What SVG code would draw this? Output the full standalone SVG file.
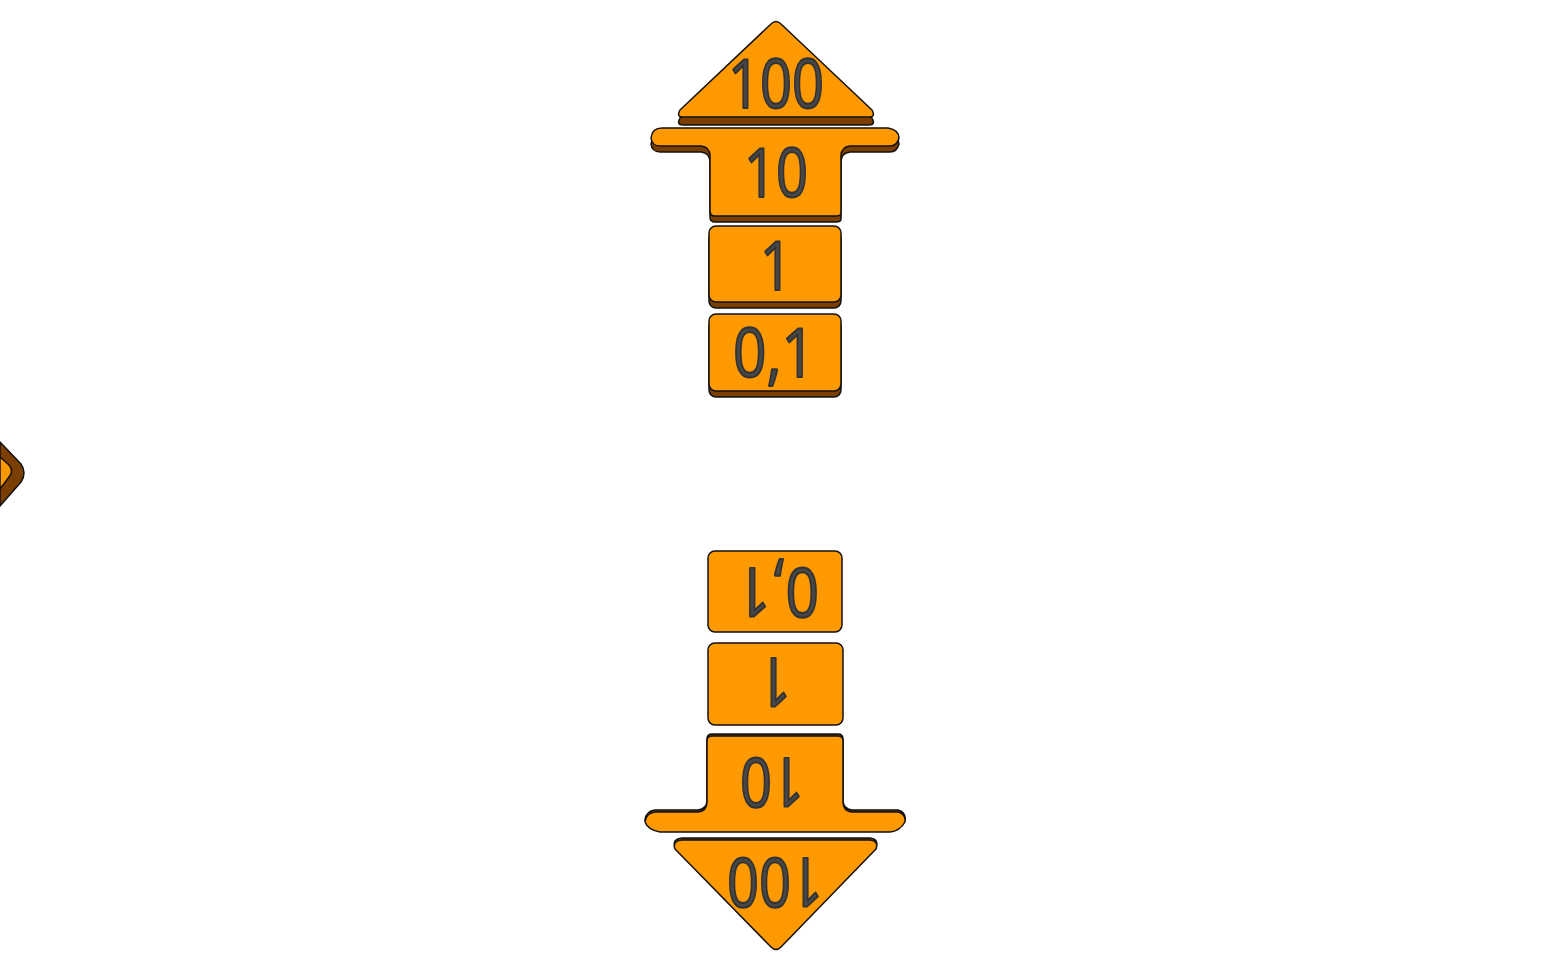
<svg xmlns="http://www.w3.org/2000/svg" width="1560" height="967" viewBox="0 0 1560 967">
<style>
.piece{fill:#ff9900;stroke:#111;stroke-width:1.5;stroke-linejoin:round}
.shadow{fill:#7a3e00;stroke:#111;stroke-width:1.5;stroke-linejoin:round}
.lbl{font-family:"Open Sans",Roboto,sans-serif;font-size:68px;fill:#474747;stroke:#333;stroke-width:2;stroke-linejoin:round;stroke-linecap:round;text-anchor:middle}
</style>
<rect width="1560" height="967" fill="#fff"/>
<g id="left-diamond">
<path class="shadow" d="M0 442 L21 464 Q27 473 21 482 L0 506 Z"/>
<path class="piece" d="M0 457 L9 465 Q14 471 9 477 L0 489 Z" stroke="none"/>
</g>
<g id="up-100">
<path class="shadow" d="M683 117 L869 117 Q876 117 872 110 L781 28 Q776 24 771 28 L680 110 Q676 117 683 117 Z" transform="translate(0,8)"/>
<path class="piece" d="M683 117 L869 117 Q876 117 872 110 L781 24 Q776 19 771 24 L680 110 Q676 117 683 117 Z"/>
<text class="lbl" x="776" y="108" textLength="96" lengthAdjust="spacingAndGlyphs">100</text>
</g>
<g id="up-10">
<path class="shadow" d="M662 128 L888 128 Q899 130 899 138 Q897 146 890 146 L850 146 Q841 147 841 156 L841 213 Q841 216 836 216 L715 216 Q710 216 710 211 L710 156 Q710 147 701 146 L660 146 Q652 146 651 138 Q652 128 662 128 Z" transform="translate(0,6)"/>
<path class="piece" d="M662 128 L888 128 Q899 130 899 138 Q897 146 890 146 L850 146 Q841 147 841 156 L841 213 Q841 216 836 216 L715 216 Q710 216 710 211 L710 156 Q710 147 701 146 L660 146 Q652 146 651 138 Q652 128 662 128 Z"/>
<text class="lbl" x="776" y="197" textLength="64" lengthAdjust="spacingAndGlyphs">10</text>
</g>
<g id="up-1">
<rect class="shadow" x="709" y="232" width="132" height="76" rx="7"/>
<rect class="piece" x="709" y="226" width="132" height="76" rx="7"/>
<text class="lbl" x="776" y="290" textLength="32" lengthAdjust="spacingAndGlyphs">1</text>
</g>
<g id="up-01">
<rect class="shadow" x="709" y="320" width="132" height="77" rx="7"/>
<rect class="piece" x="709" y="314" width="132" height="77" rx="7"/>
<text class="lbl" x="774" y="377" textLength="82" lengthAdjust="spacingAndGlyphs">0,1</text>
</g>
<g id="down-01">
<rect class="piece" x="708" y="551" width="134" height="81" rx="7"/>
<text class="lbl" x="778" y="618" textLength="82" lengthAdjust="spacingAndGlyphs" transform="rotate(180 778 593)">0,1</text>
</g>
<g id="down-1">
<rect class="piece" x="708" y="643" width="135" height="82" rx="7"/>
<text class="lbl" x="775" y="708" textLength="32" lengthAdjust="spacingAndGlyphs" transform="rotate(180 775 683)">1</text>
</g>
<g id="down-10">
<path class="shadow" d="M712 736 L838 736 Q843 736 843 741 L843 802 Q843 811 852 812 L898 812 Q906 814 905 822 Q900 831 890 832 L660 832 Q648 830 645 822 Q646 813 655 812 L698 812 Q707 811 707 802 L707 741 Q707 736 712 736 Z" transform="translate(0,-2)"/>
<path class="piece" d="M712 736 L838 736 Q843 736 843 741 L843 802 Q843 811 852 812 L898 812 Q906 814 905 822 Q900 831 890 832 L660 832 Q648 830 645 822 Q646 813 655 812 L698 812 Q707 811 707 802 L707 741 Q707 736 712 736 Z"/>
<text class="lbl" x="772" y="808" textLength="64" lengthAdjust="spacingAndGlyphs" transform="rotate(180 772 783)">10</text>
</g>
<g id="down-100">
<path class="shadow" d="M682 840 L870 840 Q879 841 876 849 L781 947 Q776 952 771 947 L675 849 Q672 841 682 840 Z" transform="translate(0,-2)"/>
<path class="piece" d="M682 840 L870 840 Q879 841 876 849 L781 947 Q776 952 771 947 L675 849 Q672 841 682 840 Z"/>
<text class="lbl" x="775" y="908" textLength="96" lengthAdjust="spacingAndGlyphs" transform="rotate(180 775 883)">100</text>
</g>
</svg>
